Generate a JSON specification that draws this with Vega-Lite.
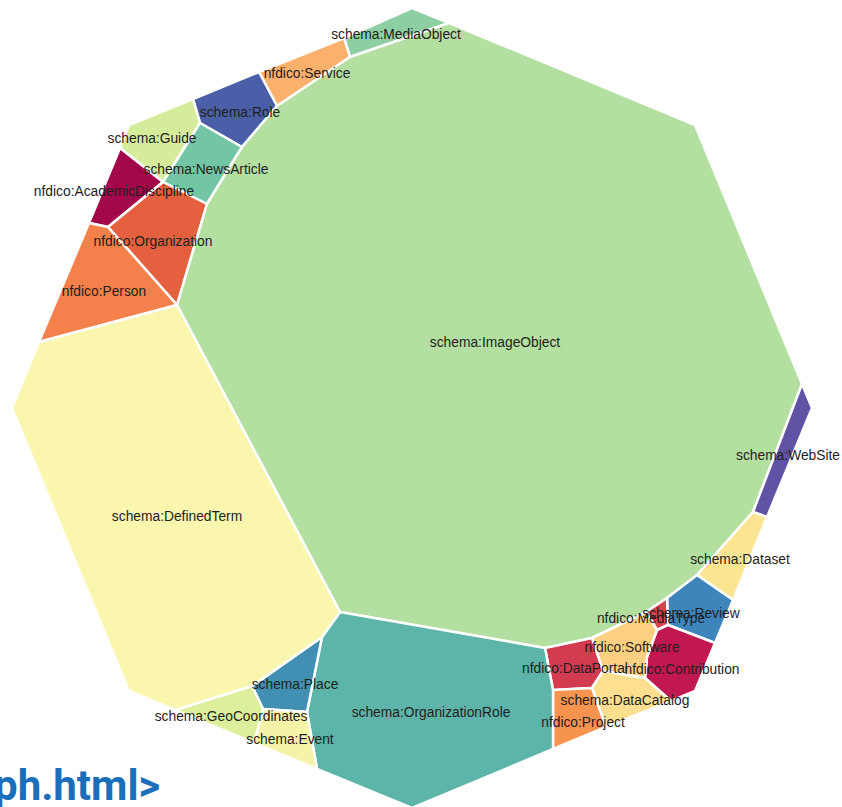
{
  "$schema": "https://vega.github.io/schema/vega-lite/v6.json",
  "width": 842,
  "height": 807,
  "autosize": {"type": "none"},
  "padding": 0,
  "background": "white",
  "config": {"view": {"stroke": null}},
  "datasets": {
    "cells": [
      {"c":"schema:MediaObject","i":0,"x":344,"y":38},{"c":"schema:MediaObject","i":1,"x":412,"y":8},{"c":"schema:MediaObject","i":2,"x":449,"y":23},{"c":"schema:MediaObject","i":3,"x":350,"y":57},
      {"c":"nfdico:Service","i":0,"x":259,"y":72},{"c":"nfdico:Service","i":1,"x":344,"y":38},{"c":"nfdico:Service","i":2,"x":350,"y":57},{"c":"nfdico:Service","i":3,"x":277,"y":106},
      {"c":"schema:Role","i":0,"x":193,"y":99},{"c":"schema:Role","i":1,"x":259,"y":72},{"c":"schema:Role","i":2,"x":277,"y":106},{"c":"schema:Role","i":3,"x":242,"y":147},{"c":"schema:Role","i":4,"x":200,"y":123},
      {"c":"schema:Guide","i":0,"x":129,"y":125},{"c":"schema:Guide","i":1,"x":193,"y":99},{"c":"schema:Guide","i":2,"x":200,"y":123},{"c":"schema:Guide","i":3,"x":163,"y":182},{"c":"schema:Guide","i":4,"x":120,"y":148},
      {"c":"schema:NewsArticle","i":0,"x":200,"y":123},{"c":"schema:NewsArticle","i":1,"x":242,"y":147},{"c":"schema:NewsArticle","i":2,"x":207,"y":204},{"c":"schema:NewsArticle","i":3,"x":163,"y":182},
      {"c":"nfdico:AcademicDiscipline","i":0,"x":89,"y":223},{"c":"nfdico:AcademicDiscipline","i":1,"x":120,"y":148},{"c":"nfdico:AcademicDiscipline","i":2,"x":163,"y":182},{"c":"nfdico:AcademicDiscipline","i":3,"x":108,"y":227},
      {"c":"nfdico:Organization","i":0,"x":108,"y":227},{"c":"nfdico:Organization","i":1,"x":163,"y":182},{"c":"nfdico:Organization","i":2,"x":207,"y":204},{"c":"nfdico:Organization","i":3,"x":177,"y":305},
      {"c":"nfdico:Person","i":0,"x":39,"y":342},{"c":"nfdico:Person","i":1,"x":89,"y":223},{"c":"nfdico:Person","i":2,"x":108,"y":227},{"c":"nfdico:Person","i":3,"x":177,"y":305},
      {"c":"schema:ImageObject","i":0,"x":449,"y":23},{"c":"schema:ImageObject","i":1,"x":695,"y":125},{"c":"schema:ImageObject","i":2,"x":802,"y":384},{"c":"schema:ImageObject","i":3,"x":753,"y":512},{"c":"schema:ImageObject","i":4,"x":697,"y":575},{"c":"schema:ImageObject","i":5,"x":667,"y":598},{"c":"schema:ImageObject","i":6,"x":646,"y":612},{"c":"schema:ImageObject","i":7,"x":592,"y":638},{"c":"schema:ImageObject","i":8,"x":545,"y":648},{"c":"schema:ImageObject","i":9,"x":340,"y":612},{"c":"schema:ImageObject","i":10,"x":177,"y":305},{"c":"schema:ImageObject","i":11,"x":207,"y":204},{"c":"schema:ImageObject","i":12,"x":242,"y":147},{"c":"schema:ImageObject","i":13,"x":277,"y":106},{"c":"schema:ImageObject","i":14,"x":350,"y":57},
      {"c":"schema:WebSite","i":0,"x":802,"y":384},{"c":"schema:WebSite","i":1,"x":812,"y":408},{"c":"schema:WebSite","i":2,"x":767,"y":517},{"c":"schema:WebSite","i":3,"x":753,"y":512},
      {"c":"schema:Dataset","i":0,"x":753,"y":512},{"c":"schema:Dataset","i":1,"x":767,"y":517},{"c":"schema:Dataset","i":2,"x":733,"y":600},{"c":"schema:Dataset","i":3,"x":697,"y":575},
      {"c":"schema:Review","i":0,"x":697,"y":575},{"c":"schema:Review","i":1,"x":733,"y":600},{"c":"schema:Review","i":2,"x":715,"y":643},{"c":"schema:Review","i":3,"x":668,"y":625},{"c":"schema:Review","i":4,"x":667,"y":598},
      {"c":"nfdico:MediaType","i":0,"x":646,"y":612},{"c":"nfdico:MediaType","i":1,"x":667,"y":598},{"c":"nfdico:MediaType","i":2,"x":668,"y":625},{"c":"nfdico:MediaType","i":3,"x":657,"y":630},
      {"c":"nfdico:Contribution","i":0,"x":657,"y":630},{"c":"nfdico:Contribution","i":1,"x":668,"y":625},{"c":"nfdico:Contribution","i":2,"x":715,"y":643},{"c":"nfdico:Contribution","i":3,"x":695,"y":691},{"c":"nfdico:Contribution","i":4,"x":671,"y":701},{"c":"nfdico:Contribution","i":5,"x":645,"y":678},{"c":"nfdico:Contribution","i":6,"x":647,"y":657},
      {"c":"nfdico:Software","i":0,"x":592,"y":638},{"c":"nfdico:Software","i":1,"x":646,"y":612},{"c":"nfdico:Software","i":2,"x":657,"y":630},{"c":"nfdico:Software","i":3,"x":647,"y":657},{"c":"nfdico:Software","i":4,"x":645,"y":678},{"c":"nfdico:Software","i":5,"x":603,"y":671},
      {"c":"nfdico:DataPortal","i":0,"x":545,"y":648},{"c":"nfdico:DataPortal","i":1,"x":592,"y":638},{"c":"nfdico:DataPortal","i":2,"x":603,"y":671},{"c":"nfdico:DataPortal","i":3,"x":592,"y":688},{"c":"nfdico:DataPortal","i":4,"x":553,"y":690},
      {"c":"schema:DataCatalog","i":0,"x":603,"y":671},{"c":"schema:DataCatalog","i":1,"x":645,"y":678},{"c":"schema:DataCatalog","i":2,"x":671,"y":701},{"c":"schema:DataCatalog","i":3,"x":606,"y":727},{"c":"schema:DataCatalog","i":4,"x":592,"y":688},
      {"c":"nfdico:Project","i":0,"x":553,"y":690},{"c":"nfdico:Project","i":1,"x":592,"y":688},{"c":"nfdico:Project","i":2,"x":606,"y":727},{"c":"nfdico:Project","i":3,"x":553,"y":749},
      {"c":"schema:OrganizationRole","i":0,"x":340,"y":612},{"c":"schema:OrganizationRole","i":1,"x":545,"y":648},{"c":"schema:OrganizationRole","i":2,"x":553,"y":690},{"c":"schema:OrganizationRole","i":3,"x":553,"y":749},{"c":"schema:OrganizationRole","i":4,"x":412,"y":808},{"c":"schema:OrganizationRole","i":5,"x":317,"y":769},{"c":"schema:OrganizationRole","i":6,"x":307,"y":712},{"c":"schema:OrganizationRole","i":7,"x":322,"y":637},
      {"c":"schema:Place","i":0,"x":322,"y":637},{"c":"schema:Place","i":1,"x":307,"y":712},{"c":"schema:Place","i":2,"x":263,"y":709},{"c":"schema:Place","i":3,"x":252,"y":686},
      {"c":"schema:Event","i":0,"x":263,"y":709},{"c":"schema:Event","i":1,"x":307,"y":712},{"c":"schema:Event","i":2,"x":317,"y":769},{"c":"schema:Event","i":3,"x":254,"y":743},
      {"c":"schema:GeoCoordinates","i":0,"x":175,"y":710},{"c":"schema:GeoCoordinates","i":1,"x":252,"y":686},{"c":"schema:GeoCoordinates","i":2,"x":263,"y":709},{"c":"schema:GeoCoordinates","i":3,"x":254,"y":743},
      {"c":"schema:DefinedTerm","i":0,"x":177,"y":305},{"c":"schema:DefinedTerm","i":1,"x":340,"y":612},{"c":"schema:DefinedTerm","i":2,"x":322,"y":637},{"c":"schema:DefinedTerm","i":3,"x":252,"y":686},{"c":"schema:DefinedTerm","i":4,"x":175,"y":710},{"c":"schema:DefinedTerm","i":5,"x":129,"y":691},{"c":"schema:DefinedTerm","i":6,"x":12,"y":408},{"c":"schema:DefinedTerm","i":7,"x":39,"y":342}
    ],
    "labels": [
      {"t":"schema:MediaObject","x":396,"y":35},
      {"t":"nfdico:Service","x":307,"y":74},
      {"t":"schema:Role","x":240,"y":113},
      {"t":"schema:Guide","x":152,"y":139},
      {"t":"schema:NewsArticle","x":206,"y":170},
      {"t":"nfdico:AcademicDiscipline","x":114,"y":192},
      {"t":"nfdico:Organization","x":153,"y":242},
      {"t":"nfdico:Person","x":104,"y":292},
      {"t":"schema:ImageObject","x":495,"y":343},
      {"t":"schema:WebSite","x":788,"y":456},
      {"t":"schema:DefinedTerm","x":177,"y":517},
      {"t":"schema:Dataset","x":740,"y":560},
      {"t":"schema:Review","x":691,"y":614},
      {"t":"nfdico:MediaType","x":651,"y":619},
      {"t":"nfdico:Software","x":632,"y":648},
      {"t":"nfdico:Contribution","x":682,"y":670},
      {"t":"nfdico:DataPortal","x":575,"y":669},
      {"t":"schema:DataCatalog","x":625,"y":701},
      {"t":"nfdico:Project","x":583,"y":723},
      {"t":"schema:Place","x":295,"y":685},
      {"t":"schema:OrganizationRole","x":431,"y":713},
      {"t":"schema:GeoCoordinates","x":231,"y":717},
      {"t":"schema:Event","x":290,"y":740}
    ],
    "footer": [
      {"t":"ph.html>","x":-6,"y":800}
    ]
  },
  "layer": [
    {
      "data": {"name": "cells"},
      "mark": {"type": "line", "interpolate": "linear-closed", "stroke": "white", "strokeWidth": 2.5, "strokeJoin": "round"},
      "encoding": {
        "x": {"field": "x", "type": "quantitative", "scale": {"domain": [0, 842], "nice": false, "zero": false}, "axis": null},
        "y": {"field": "y", "type": "quantitative", "scale": {"domain": [0, 807], "nice": false, "zero": false, "reverse": true}, "axis": null},
        "detail": {"field": "c", "type": "nominal"},
        "order": {"field": "i", "type": "quantitative"},
        "fill": {
          "field": "c", "type": "nominal", "legend": null,
          "scale": {
            "domain": ["schema:MediaObject","nfdico:Service","schema:Role","schema:Guide","schema:NewsArticle","nfdico:AcademicDiscipline","nfdico:Organization","nfdico:Person","schema:ImageObject","schema:WebSite","schema:Dataset","schema:Review","nfdico:MediaType","nfdico:Contribution","nfdico:Software","nfdico:DataPortal","schema:DataCatalog","nfdico:Project","schema:OrganizationRole","schema:Place","schema:Event","schema:GeoCoordinates","schema:DefinedTerm"],
            "range": ["#8dcfa2","#fbb06b","#4b5fa9","#d5ec9b","#72c6a4","#a3084b","#e5603f","#f4804c","#b3dfa0","#6052a5","#fbe592","#3d85bb","#d8424d","#c0184f","#fdd081","#d33b50","#fedf8f","#f6934f","#5db4a8","#4190b3","#f4f3a8","#dcef9b","#faf6ae"]
          }
        }
      }
    },
    {
      "data": {"name": "labels"},
      "mark": {"type": "text", "font": "Liberation Sans", "fontSize": 13.8, "color": "#1e1e1e", "align": "center", "baseline": "middle"},
      "encoding": {
        "x": {"field": "x", "type": "quantitative"},
        "y": {"field": "y", "type": "quantitative"},
        "text": {"field": "t"}
      }
    },
    {
      "data": {"name": "footer"},
      "mark": {"type": "text", "font": "Roboto", "fontWeight": "bold", "fontSize": 42, "color": "#1b6fba", "align": "left", "baseline": "alphabetic"},
      "encoding": {
        "x": {"field": "x", "type": "quantitative"},
        "y": {"field": "y", "type": "quantitative"},
        "text": {"field": "t"}
      }
    }
  ]
}
